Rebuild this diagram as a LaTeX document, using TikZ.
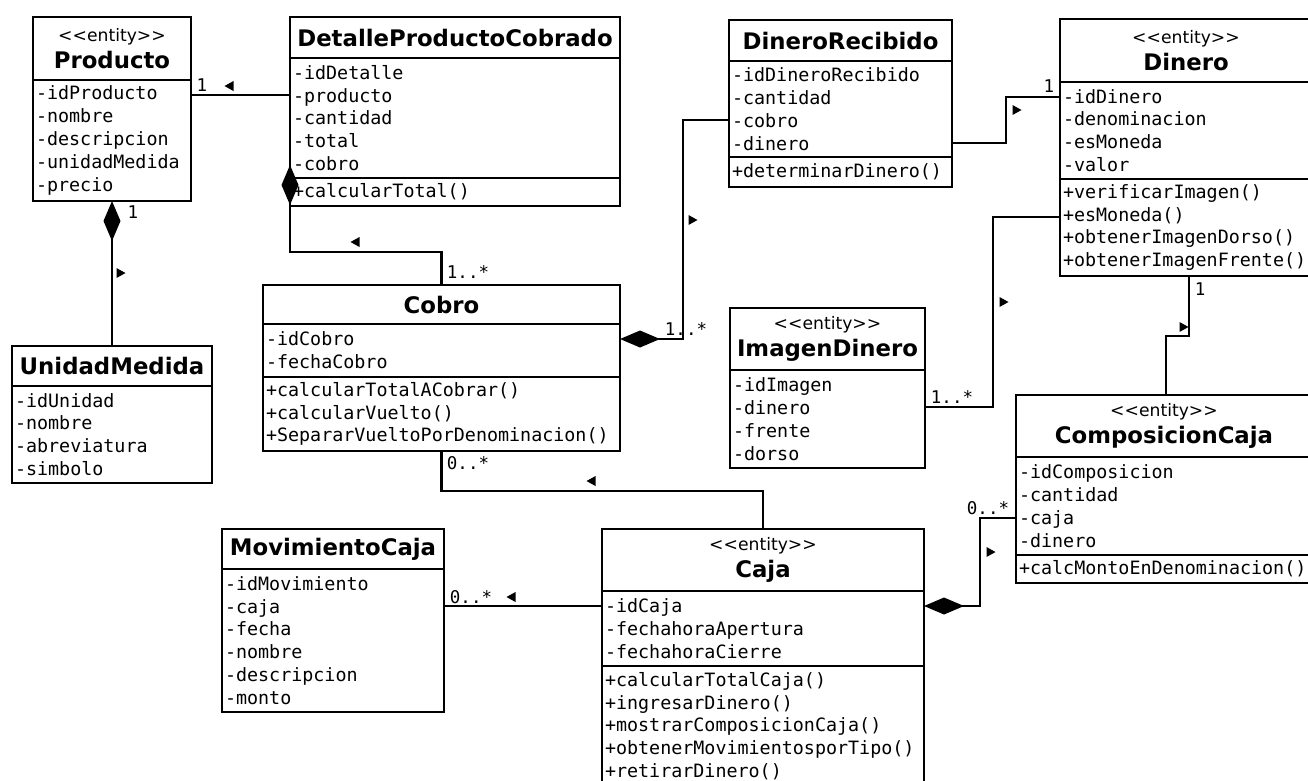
\documentclass[tikz,border=0pt]{standalone}
\usepackage{fontspec}
\setmainfont{DejaVu Sans}
\newfontfamily\monofam{DejaVu Sans Mono}
\newfontfamily\entfam{DejaVu Sans}[Ligatures=TeXOff]
\usetikzlibrary{arrows.meta}

\newcommand{\entity}{{\entfam\mdseries\fontsize{17.2}{27}\selectfont <<entity>>}\\}

\begin{document}
\begin{tikzpicture}[x=1pt, y=-1pt,
    box/.style={draw, line width=2.6pt, anchor=north west, inner sep=0pt, outer sep=0pt},
    head/.style={box, align=center, font=\bfseries\fontsize{22.8}{27}\selectfont},
    memb/.style={box, align=left, inner xsep=3pt, font=\monofam\fontsize{18.36}{22.8}\selectfont},
    mult/.style={inner sep=0pt, font=\monofam\fontsize{17.5}{20}\selectfont},
    assoc/.style={line width=2.6pt},
    comp/.style={assoc, {Diamond[length=40pt,width=17pt]}-},
    navl/.pic={\fill (4.5,-5) -- (-4.5,0) -- (4.5,5) -- cycle;},
    navr/.pic={\fill (-4.5,-5) -- (4.5,0) -- (-4.5,5) -- cycle;}]

    % Frame
    \path[use as bounding box] (0,0) rectangle (1308,780);
    \clip (0,0) rectangle (1308,780);
    \fill[white] (0,0) rectangle (1308,780);

    % Producto
    \node[head, text width=158pt, minimum height=63pt] (producto) at (33,17) {\entity Producto};
    \node[memb, text width=152pt, minimum height=121pt] (producto-a) at (producto.south west) {-idProducto\\-nombre\\-descripcion\\-unidadMedida\\-precio};

    % DetalleProductoCobrado
    \node[head, text width=330pt, minimum height=41pt] (detalle) at (290,17) {DetalleProductoCobrado};
    \node[memb, text width=324pt, minimum height=120pt] (detalle-a) at (detalle.south west) {-idDetalle\\-producto\\-cantidad\\-total\\-cobro};
    \node[memb, text width=324pt, minimum height=28pt] (detalle-m) at (detalle-a.south west) {+calcularTotal()};

    % DineroRecibido
    \node[head, text width=223pt, minimum height=41pt] (recibido) at (729,20) {DineroRecibido};
    \node[memb, text width=217pt, minimum height=96pt] (recibido-a) at (recibido.south west) {-idDineroRecibido\\-cantidad\\-cobro\\-dinero};
    \node[memb, text width=217pt, minimum height=30pt] (recibido-m) at (recibido-a.south west) {+determinarDinero()};

    % Dinero
    \node[head, text width=252pt, minimum height=63pt] (dinero) at (1060,19) {\entity Dinero};
    \node[memb, text width=246pt, minimum height=97pt] (dinero-a) at (dinero.south west) {-idDinero\\-denominacion\\-esMoneda\\-valor};
    \node[memb, text width=246pt, minimum height=97pt] (dinero-m) at (dinero-a.south west) {+verificarImagen()\\+esMoneda()\\+obtenerImagenDorso()\\+obtenerImagenFrente()};

    % UnidadMedida
    \node[head, text width=200pt, minimum height=40pt] (unidad) at (12,346) {UnidadMedida};
    \node[memb, text width=194pt, minimum height=97pt] (unidad-a) at (unidad.south west) {-idUnidad\\-nombre\\-abreviatura\\-simbolo};

    % Cobro
    \node[head, text width=357pt, minimum height=39pt] (cobro) at (263,285) {Cobro};
    \node[memb, text width=351pt, minimum height=53pt] (cobro-a) at (cobro.south west) {-idCobro\\-fechaCobro};
    \node[memb, text width=351pt, minimum height=74pt] (cobro-m) at (cobro-a.south west) {+calcularTotalACobrar()\\+calcularVuelto()\\+SepararVueltoPorDenominacion()};

    % ImagenDinero
    \node[head, text width=195pt, minimum height=62pt] (imagen) at (730,308) {\entity ImagenDinero};
    \node[memb, text width=189pt, minimum height=98pt] (imagen-a) at (imagen.south west) {-idImagen\\-dinero\\-frente\\-dorso};

    % ComposicionCaja
    \node[head, text width=296pt, minimum height=62pt] (composicion) at (1016,395) {\entity ComposicionCaja};
    \node[memb, text width=290pt, minimum height=98pt] (composicion-a) at (composicion.south west) {-idComposicion\\-cantidad\\-caja\\-dinero};
    \node[memb, text width=290pt, minimum height=28pt] (composicion-m) at (composicion-a.south west) {+calcMontoEnDenominacion()};

    % MovimientoCaja
    \node[head, text width=222pt, minimum height=40pt] (movimiento) at (222,529) {MovimientoCaja};
    \node[memb, text width=216pt, minimum height=143pt] (movimiento-a) at (movimiento.south west) {-idMovimiento\\-caja\\-fecha\\-nombre\\-descripcion\\-monto};

    % Caja
    \node[head, text width=322pt, minimum height=62pt] (caja) at (602,529) {\entity Caja};
    \node[memb, text width=316pt, minimum height=75pt] (caja-a) at (caja.south west) {-idCaja\\-fechahoraApertura\\-fechahoraCierre};
    \node[memb, text width=316pt, minimum height=120pt] (caja-m) at (caja-a.south west) {+calcularTotalCaja()\\+ingresarDinero()\\+mostrarComposicionCaja()\\+obtenerMovimientosporTipo()\\+retirarDinero()};

    % Associations
    \draw[assoc] ([yshift=-15pt]producto-a.north east) -- ([yshift=-37pt]detalle-a.north west);
    \draw[comp] (producto-a.south) -- (unidad.north);
    \draw[comp] ([yshift=-107pt]detalle-a.north west) |- ([yshift=33pt]cobro.north) -- (cobro.north);
    \draw[comp] ([yshift=-15pt]cobro-a.north east) -| ([xshift=-46pt,yshift=-59pt]recibido-a.north west) -- ([yshift=-59pt]recibido-a.north west);
    \draw[assoc] ([yshift=-82pt]recibido-a.north east) -| ([xshift=-54pt,yshift=-15pt]dinero-a.north west) -- ([yshift=-15pt]dinero-a.north west);
    \draw[assoc] ([yshift=-37pt]imagen-a.north east) -| ([xshift=-67pt,yshift=-38pt]dinero-m.north west) -- ([yshift=-38pt]dinero-m.north west);
    \draw[assoc] ([xshift=129pt]dinero-m.south west) -- ++(0,60) -| ([xshift=150pt]composicion.north west);
    \draw[comp] ([yshift=-15pt]caja-a.north east) -| ([xshift=-36pt,yshift=-61pt]composicion-a.north west) -- ([yshift=-61pt]composicion-a.north west);
    \draw[assoc] (cobro-m.south) -- ++(0,40) -| (caja.north);
    \draw[assoc] ([yshift=-37pt]movimiento-a.north east) -- ([yshift=-15pt]caja-a.north west);

    % Multiplicities
    \node[mult] (m-prod) at (202,85) {1};
    \node[mult] (m-unid) at (133,212) {1};
    \node[mult] (m-deta) at (468,272) {1..*};
    \node[mult] (m-cobr) at (686,329) {1..*};
    \node[mult] (m-dine) at (1049,86) {1};
    \node[mult] (m-imag) at (952,397) {1..*};
    \node[mult] (m-comp) at (1200,289) {1};
    \node[mult] (m-caja) at (988,508) {0..*};
    \node[mult] (m-vuel) at (468,463) {0..*};
    \node[mult] (m-movi) at (471,597) {0..*};

    % Direction marks
    \pic at (229,86) {navl};
    \pic at (355,242) {navl};
    \pic at (591,481) {navl};
    \pic at (511,597) {navl};
    \pic at (121,273) {navr};
    \pic at (693,220) {navr};
    \pic at (1017,110) {navr};
    \pic at (1004,302) {navr};
    \pic at (1184,327) {navr};
    \pic at (991,552) {navr};

\end{tikzpicture}
\end{document}
